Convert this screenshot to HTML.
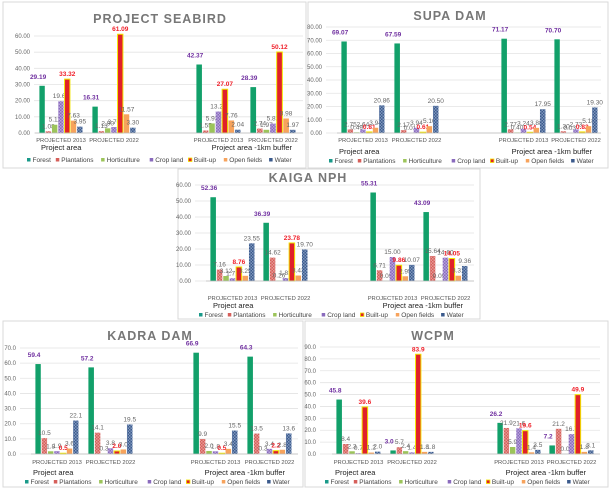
<!DOCTYPE html>
<html><head><meta charset="utf-8"><style>
html,body{margin:0;padding:0;background:#fff;}
svg{display:block;font-family:"Liberation Sans",sans-serif;}
</style></head><body>
<svg id="s" width="611" height="490" viewBox="0 0 611 490" xmlns="http://www.w3.org/2000/svg">
<defs>
<pattern id="pP" width="3" height="3" patternUnits="userSpaceOnUse"><rect width="3" height="3" fill="#d65f5a"/><rect width="1.5" height="1.5" fill="#e59a96"/><rect x="1.5" y="1.5" width="1.5" height="1.5" fill="#e59a96"/></pattern>
<pattern id="pC" width="3" height="3" patternUnits="userSpaceOnUse"><rect width="3" height="3" fill="#8a6bbd"/><rect width="1.5" height="1.5" fill="#b7a3da"/><rect x="1.5" y="1.5" width="1.5" height="1.5" fill="#b7a3da"/></pattern>
<pattern id="pW" width="3" height="3" patternUnits="userSpaceOnUse"><rect width="3" height="3" fill="#3b5a8c"/><rect width="1.5" height="1.5" fill="#7f97bd"/><rect x="1.5" y="1.5" width="1.5" height="1.5" fill="#7f97bd"/></pattern>
</defs>
<g id="g"></g>
</svg>
<script>
var NS="http://www.w3.org/2000/svg",G=document.getElementById("g");
function el(t,a,txt){var e=document.createElementNS(NS,t);for(var k in a)e.setAttribute(k,a[k]);if(txt!=null)e.textContent=txt;G.appendChild(e);return e;}
var fills=["#12a06a","url(#pP)","#9cc45a","url(#pC)","#e0202a","#f7a35c","url(#pW)"];
var lcol=["#1a9a8a","#d65f5a","#9cc45a","#8a6bbd","#e0202a","#f7a35c","#3b5a8c"];
var names=["Forest","Plantations","Horticulture","Crop land","Built-up","Open fields","Water"];
function chart(c){
  el("rect",{x:c.box[0],y:c.box[1],width:c.box[2],height:c.box[3],fill:"#fff",stroke:"#d9d9d9","stroke-width":1});
  el("text",{x:c.tx,y:c.ty,"font-size":12.5,"font-weight":"bold",fill:"#777","text-anchor":"middle","letter-spacing":"1"},c.title);
  var n=c.ticks;for(var i=0;i<=n;i++){var v=c.ymax*i/n,y=c.y0-(c.y0-c.yt)*i/n;
    el("line",{x1:c.lx+4,x2:c.px1,y1:y,y2:y,stroke:"#e3e3e3","stroke-width":0.8});
    el("text",{x:c.lx,y:y+2,"font-size":6,fill:"#666","text-anchor":"end"},v.toFixed(c.dec));}
  c.groups.forEach(function(gx,gi){var d=c.data[gi],w=(gx[1]-gx[0])/7;
    d.forEach(function(v,j){var h=(c.y0-c.yt)*v/c.ymax,x=gx[0]+j*w+0.4,bw=w-0.9;
      var a={x:x,y:c.y0-h,width:bw,height:h,fill:fills[j]};
      if(j==4){a.stroke="#f2e600";a["stroke-width"]=1;}
      el("rect",a);
      var lbl=v.toFixed(c.dec),ly=c.y0-h-3,cx=x+bw/2;
      if(j==0)el("text",{x:cx-4,y:ly-4,"font-size":6.5,"font-weight":"bold",fill:"#7030a0","text-anchor":"middle"},lbl);
      else if(j==4)el("text",{x:cx,y:ly,"font-size":6.5,"font-weight":"bold",fill:"#f0202a","text-anchor":"middle"},lbl);
      else el("text",{x:cx,y:ly,"font-size":6.5,fill:"#666","text-anchor":"middle"},lbl);
    });
    el("text",{x:(gx[0]+gx[1])/2,y:c.cy,"font-size":5.8,fill:"#555","text-anchor":"middle"},"PROJECTED "+(gi%2==0?"2013":"2022"));
  });
  el("text",{x:c.pa[0],y:c.pa[1],"font-size":7.5,fill:"#222"},"Project area");
  el("text",{x:c.pb[0],y:c.pb[1],"font-size":7.5,fill:"#222","text-anchor":"end"},"Project area -1km buffer");
  el("line",{x1:c.groups[0][0]-4,x2:c.px1,y1:c.y0,y2:c.y0,stroke:"#bbb","stroke-width":0.8});
  var x=c.lg[0];names.forEach(function(nm,j){
    el("rect",{x:x,y:c.lg[1]-4,width:3.5,height:3.5,fill:lcol[j],stroke:j==4?"#f2e600":"none","stroke-width":0.8});
    el("text",{x:x+5.5,y:c.lg[1],"font-size":6.5,fill:"#444"},nm);
    x+=5.5+nm.length*3.3+3.5;});
}
chart({box:[3,2,303,166],title:"PROJECT SEABIRD",tx:160,ty:23,ymax:60,ticks:6,dec:2,y0:133,yt:36,lx:30,px1:303,
 groups:[[39,83],[92,136],[196,241],[250,296]],cy:142,pa:[41,150],pb:[292,150],lg:[27,162],
 data:[[29.19,1.08,5.11,19.66,33.32,7.63,3.95],[16.31,1.13,2.90,3.70,61.09,11.57,3.30],[42.37,1.55,5.93,13.29,27.07,7.76,2.04],[28.39,2.74,1.97,5.82,50.12,8.98,1.97]]});
chart({box:[308,2,300,166],title:"SUPA DAM",tx:450,ty:20,ymax:80,ticks:8,dec:2,y0:133,yt:27,lx:322,px1:601,
 groups:[[341,385],[394,439],[501,546],[554,598]],cy:142,pa:[339,154],pb:[592,154],lg:[329,163],
 data:[[69.07,2.75,0.49,2.64,0.81,3.94,20.86],[67.59,2.17,0.01,3.94,0.61,5.16,20.50],[71.17,2.77,0.40,3.24,0.54,3.88,17.95],[70.70,1.30,0.03,2.73,0.82,5.18,19.30]]});
chart({box:[178,169,302,150],title:"KAIGA NPH",tx:308,ty:182,ymax:60,ticks:6,dec:2,y0:281,yt:185,lx:191,px1:474,
 groups:[[210,255],[263,308],[370,415],[423,468]],cy:300,pa:[213,308],pb:[463,308],lg:[199,317],
 data:[[52.36,7.16,3.12,1.71,8.76,3.25,23.55],[36.39,14.62,0.26,1.83,23.78,3.43,19.70],[55.31,6.71,0.09,15.00,9.86,2.95,10.07],[43.09,15.64,0.09,14.60,14.05,3.31,9.36]]});
chart({box:[3,321,300,166],title:"KADRA DAM",tx:150,ty:340,ymax:70,ticks:7,dec:1,y0:454,yt:348,lx:16,px1:298,
 groups:[[35,79],[88,133],[193,238],[247,292]],cy:464,pa:[33,475],pb:[285,475],lg:[25,484],
 data:[[59.4,10.5,1.8,1.9,0.5,3.6,22.1],[57.2,14.1,0.3,3.8,2.0,3.0,19.5],[66.9,9.9,2.0,1.8,0.5,3.4,15.5],[64.3,13.5,0.3,3.4,2.2,2.8,13.6]]});
chart({box:[305,321,303,166],title:"WCPM",tx:433,ty:340,ymax:90,ticks:9,dec:1,y0:454,yt:347,lx:316,px1:600,
 groups:[[336,381],[390,434],[497,541],[549,594]],cy:464,pa:[335,475],pb:[586,475],lg:[325,484],
 data:[[45.8,8.4,2.3,0.7,39.6,1.2,2.0],[3.0,5.7,2.4,1.4,83.9,1.8,1.8],[26.2,21.9,5.9,21.6,19.6,1.4,3.5],[7.2,21.2,0.0,16.7,49.9,1.8,3.1]]});
</script>
</body></html>
